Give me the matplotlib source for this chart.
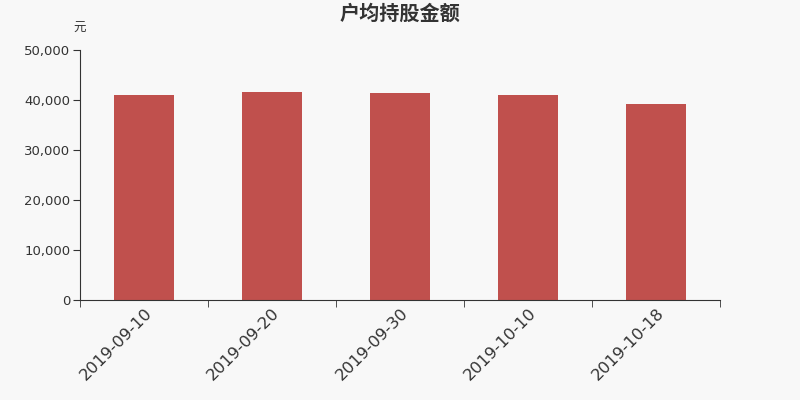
import matplotlib
matplotlib.use("Agg")
import matplotlib.pyplot as plt
import numpy as np

plt.rcParams['font.family'] = ['Noto Sans CJK SC', 'DejaVu Sans']

categories = ["2019-09-10", "2019-09-20", "2019-09-30", "2019-10-10", "2019-10-18"]
values = [41100, 41600, 41350, 41000, 39150]
yticks = [0, 10000, 20000, 30000, 40000, 50000]

bg = "#f8f8f8"
fig = plt.figure(figsize=(8, 4), dpi=100, facecolor=bg)
ax = fig.add_axes([0.1, 0.25, 0.8, 0.625], facecolor=bg)

x = np.arange(len(categories))
ax.bar(x, values, width=0.47, color="#c0504d", zorder=2)
ax.set_xlim(-0.5, len(categories) - 0.5)
ax.set_ylim(0, 50000)
ax.set_yticks(yticks)
ax.set_yticklabels([f"{v:,}" for v in yticks], fontsize=9.5, color="#333333", family=['DejaVu Sans'])
ax.set_xticks(x)
ax.set_xticklabels(categories, rotation=45, ha='right', rotation_mode='anchor',
                   fontsize=11.8, color="#333333", family=['DejaVu Sans'])
ax.set_xticks(np.arange(-0.5, len(categories)), minor=True)
ax.tick_params(axis='x', which='major', length=0, pad=4)
ax.tick_params(axis='x', which='minor', length=5, color="#333333")
ax.tick_params(axis='y', length=5, color="#333333", pad=2)
for s in ['top', 'right']:
    ax.spines[s].set_visible(False)
for s in ['left', 'bottom']:
    ax.spines[s].set_color("#333333")

fig.text(0.5, 0.967, "户均持股金额", ha='center', va='center', fontsize=14.5, fontweight='bold', color="#333333")
fig.text(0.1, 0.928, "元", ha='center', va='center', fontsize=9, color="#333333")

fig.savefig("out.png", dpi=100, facecolor=bg)
